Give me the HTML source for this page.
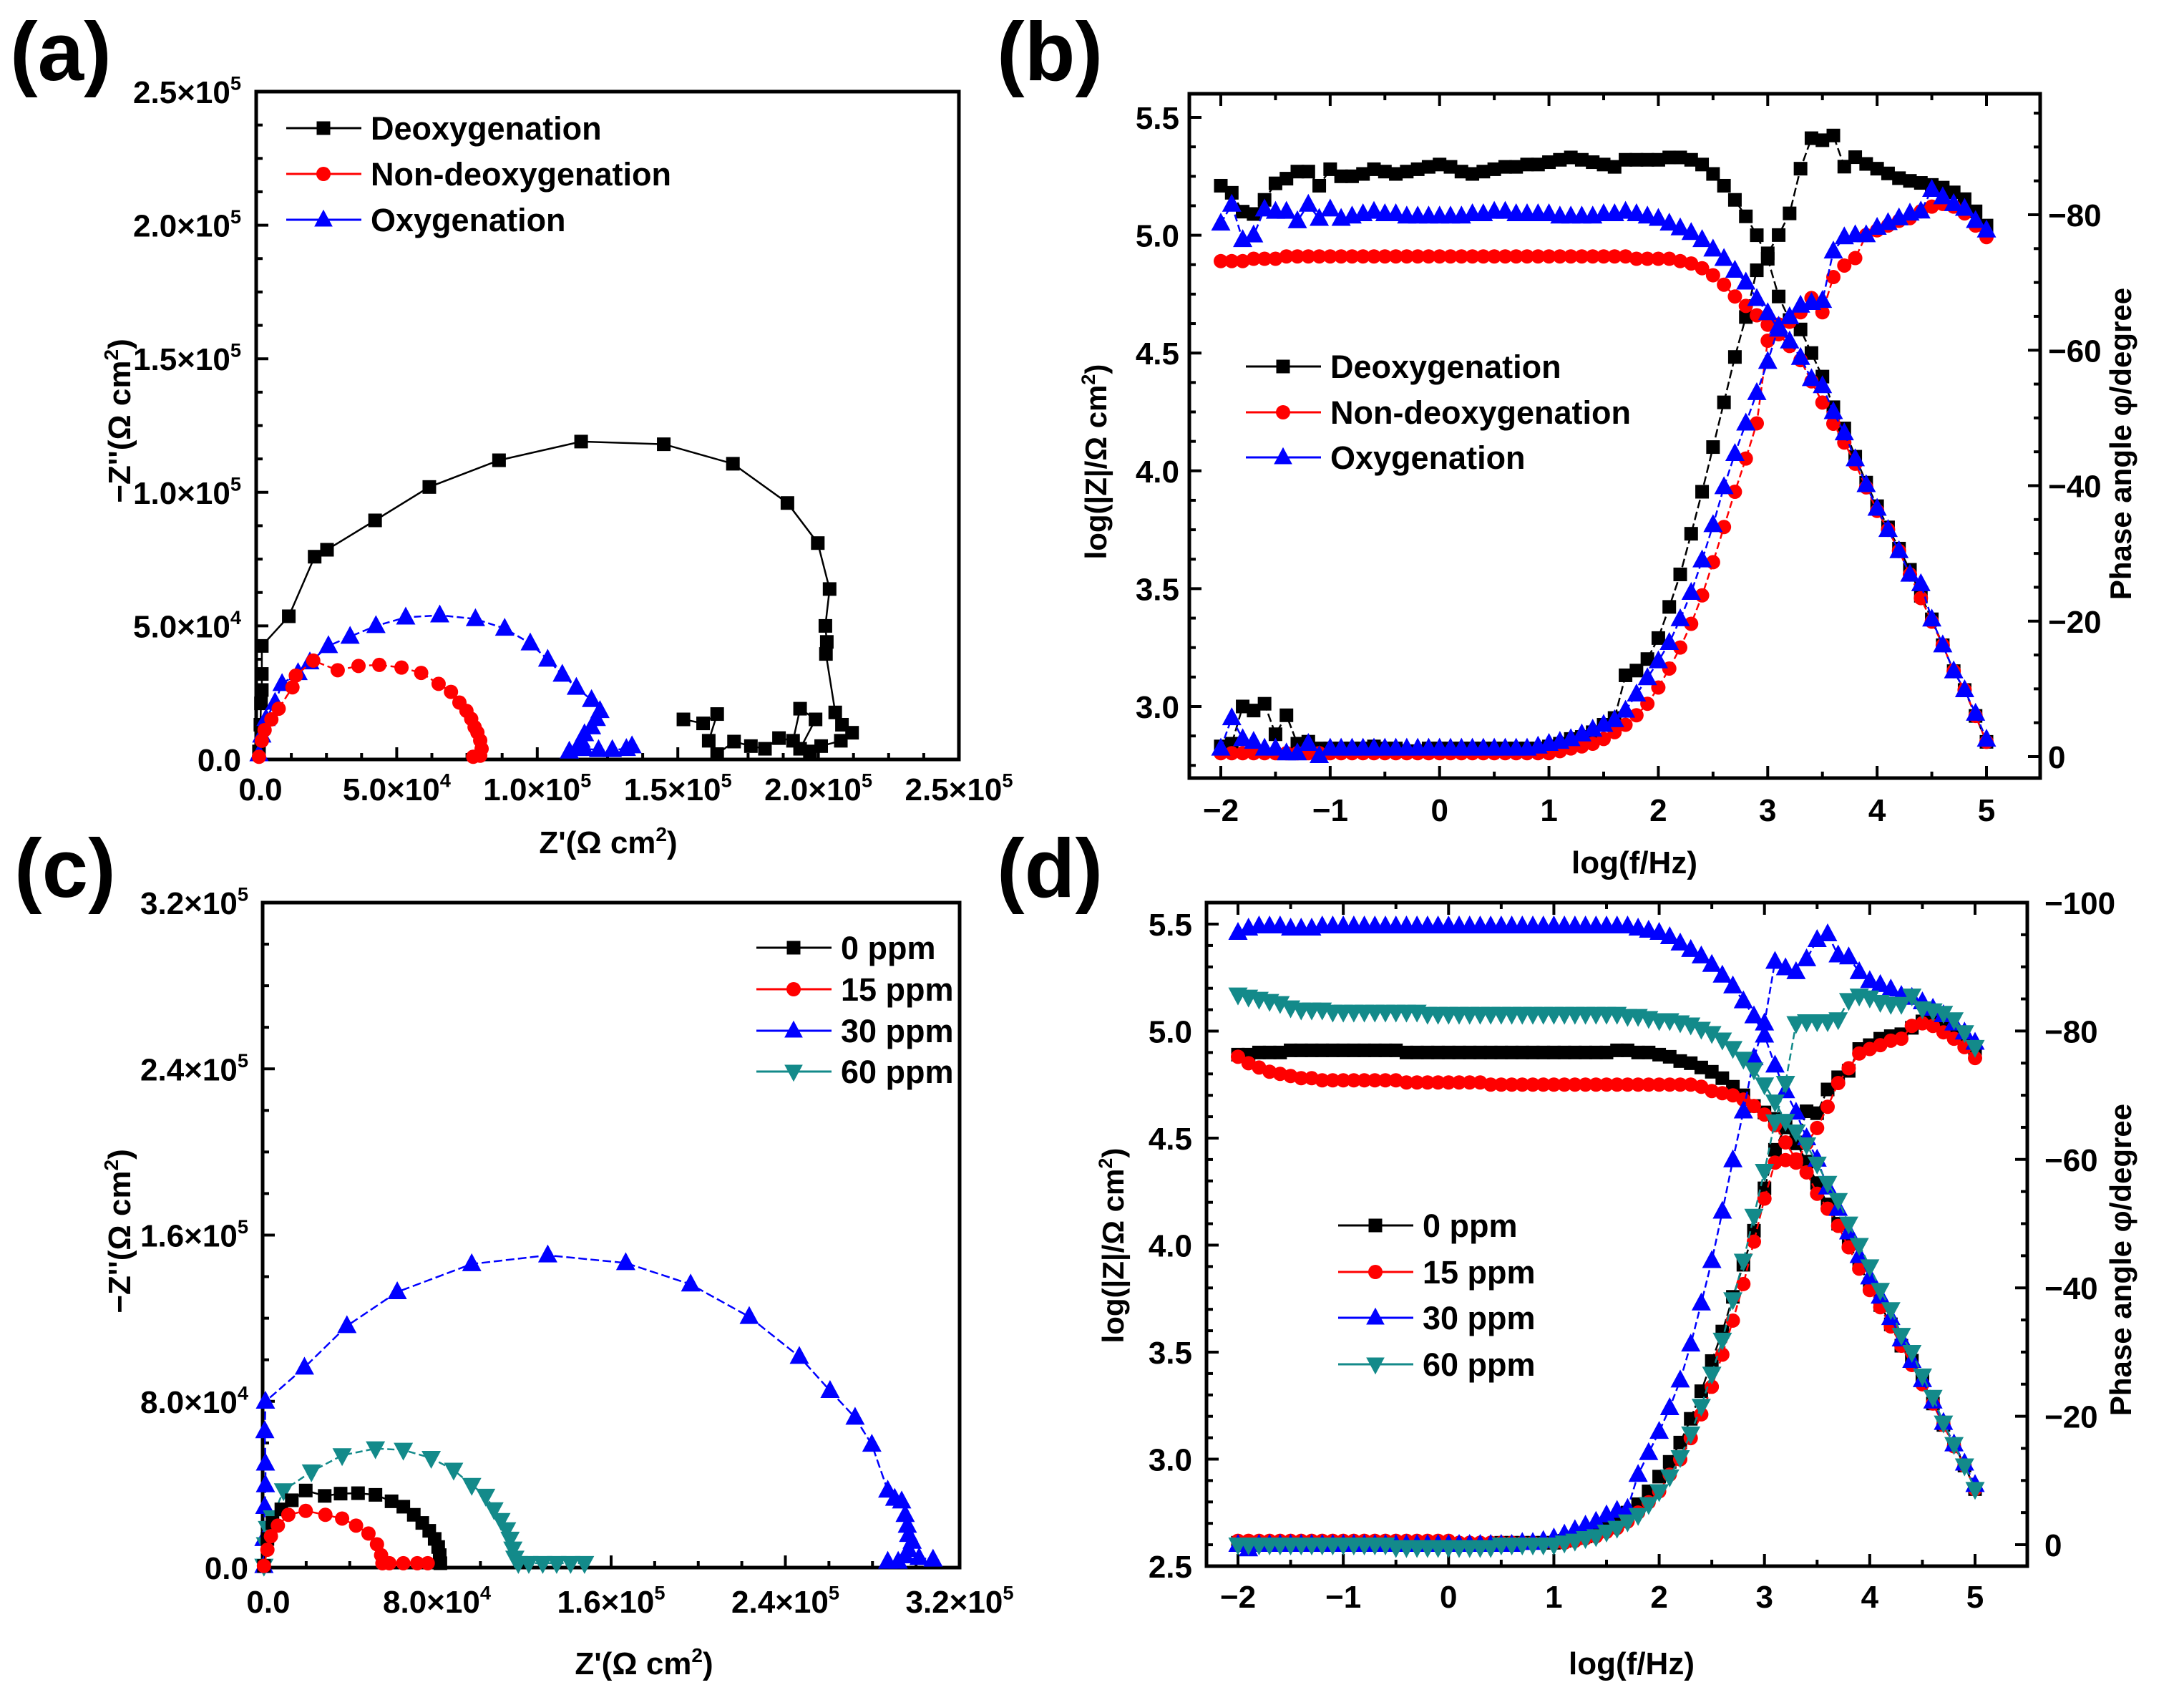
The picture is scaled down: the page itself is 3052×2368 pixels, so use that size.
<!DOCTYPE html>
<html><head><meta charset="utf-8"><title>EIS plots</title>
<style>html,body{margin:0;padding:0;background:#fff}svg{display:block}text{font-family:"Liberation Sans",Arial,sans-serif;font-weight:bold;fill:#000}</style>
</head><body>
<svg id="fig" xmlns="http://www.w3.org/2000/svg" width="3052" height="2368" viewBox="0 0 3052 2368"></svg>
<script>
// ---------- DATA ----------
const logF = [-2,-1.9,-1.8,-1.7,-1.6,-1.5,-1.4,-1.3,-1.2,-1.1,-1,-0.9,-0.8,-0.7,-0.6,-0.5,-0.4,-0.3,-0.2,-0.1,0,0.1,0.2,0.3,0.4,0.5,0.6,0.7,0.8,0.9,1,1.1,1.2,1.3,1.4,1.5,1.6,1.7,1.8,1.9,2,2.1,2.2,2.3,2.4,2.5,2.6,2.7,2.8,2.9,3,3.1,3.2,3.3,3.4,3.5,3.6,3.7,3.8,3.9,4,4.1,4.2,4.3,4.4,4.5,4.6,4.7,4.8,4.9,5];

// panel a (units 1e4 ohm cm2)
const aDeoxX = [0.1,0.15,0.17,0.2,0.2,0.2,1.16,2.08,2.52,4.23,6.16,8.64,11.56,14.5,16.96,18.9,19.98,20.4,20.25,20.3,20.27,20.6,20.84,21.2,20.8,20.1,19.7,19.35,19.9,19.35,19.1,18.6,18.1,17.6,17.0,16.4,16.1,16.4,15.9,15.2];
const aDeoxY = [0.3,1.3,2.1,2.6,3.2,4.25,5.36,7.59,7.85,8.95,10.2,11.2,11.9,11.8,11.07,9.6,8.1,6.38,5.0,4.4,3.95,1.76,1.3,1.0,0.7,0.5,0.3,0.4,1.5,1.9,0.7,0.8,0.4,0.5,0.67,0.2,0.7,1.7,1.35,1.5];
const aNonX = [0.1,0.2,0.3,0.54,0.8,1.29,1.41,2.03,2.9,3.64,4.38,5.17,5.87,6.49,6.93,7.23,7.48,7.65,7.77,7.87,7.97,8.02,7.97,7.72];
const aNonY = [0.1,0.7,1.1,1.5,1.9,2.7,3.14,3.7,3.34,3.5,3.54,3.44,3.24,2.83,2.53,2.13,1.82,1.52,1.21,1.01,0.71,0.4,0.14,0.1];
const aOxyX = [0.1,0.2,0.35,0.67,0.92,1.49,1.91,2.57,3.34,4.26,5.32,6.53,7.8,8.84,9.75,10.37,10.89,11.39,11.93,12.23,12.1,11.93,11.68,11.56,11.44,11.14,11.68,12.18,12.67,13.17,13.37];
const aOxyY = [0.2,0.9,1.52,2.13,2.83,3.24,3.64,4.25,4.6,5.0,5.32,5.4,5.26,4.9,4.35,3.74,3.18,2.69,2.23,1.82,1.52,1.21,0.95,0.71,0.4,0.3,0.4,0.36,0.36,0.4,0.5];

// panel b
const bDeoxZ = [5.21,5.18,5.10,5.09,5.15,5.22,5.24,5.27,5.27,5.21,5.28,5.25,5.25,5.26,5.28,5.27,5.26,5.27,5.28,5.29,5.30,5.29,5.27,5.26,5.27,5.28,5.29,5.29,5.30,5.30,5.31,5.32,5.33,5.32,5.31,5.30,5.29,5.32,5.32,5.32,5.32,5.33,5.33,5.32,5.30,5.26,5.21,5.15,5.08,5.00,4.90,4.74,4.64,4.60,4.50,4.40,4.27,4.18,4.06,3.95,3.85,3.76,3.67,3.58,3.47,3.37,3.26,3.15,3.07,2.96,2.85];
const bDeoxP = [-1.5,-1.9,-7.4,-6.8,-7.8,-3.3,-6.1,-1.9,-2.2,-1.2,-1.2,-1.2,-1.2,-1.2,-1.5,-1.2,-1.2,-0.8,-0.8,-1.2,-1.2,-1.2,-1.2,-1.2,-1.2,-1.2,-1.2,-1.2,-1.2,-1.2,-1.5,-1.9,-2.6,-2.9,-3.6,-4.7,-5.7,-12,-12.7,-14.4,-17.5,-22.1,-26.9,-32.9,-39.1,-45.7,-52.3,-59,-64.9,-71.8,-74.3,-77,-80.2,-86.8,-91.3,-91,-91.7,-87.1,-88.5,-87.5,-86.8,-86.1,-85.4,-85,-84.7,-84.4,-84,-83.3,-82.3,-80.5,-78.4];
const bNonZ = [4.89,4.89,4.89,4.90,4.90,4.90,4.91,4.91,4.91,4.91,4.91,4.91,4.91,4.91,4.91,4.91,4.91,4.91,4.91,4.91,4.91,4.91,4.91,4.91,4.91,4.91,4.91,4.91,4.91,4.91,4.91,4.91,4.91,4.91,4.91,4.91,4.91,4.91,4.90,4.90,4.90,4.90,4.89,4.88,4.86,4.83,4.79,4.74,4.70,4.66,4.62,4.58,4.53,4.47,4.38,4.29,4.20,4.12,4.03,3.93,3.83,3.75,3.66,3.56,3.46,3.36,3.26,3.15,3.07,2.96,2.85];
const bNonP = [-0.5,-0.5,-0.5,-0.5,-0.5,-0.5,-0.5,-0.5,-0.5,-0.5,-0.5,-0.5,-0.5,-0.5,-0.5,-0.5,-0.5,-0.5,-0.5,-0.5,-0.5,-0.5,-0.5,-0.5,-0.5,-0.5,-0.5,-0.5,-0.5,-0.5,-0.5,-0.8,-1.2,-1.5,-1.9,-2.6,-3.6,-4.7,-6.1,-7.8,-10.2,-13,-16.1,-19.6,-23.8,-28.7,-33.9,-39.1,-44,-49.2,-61.4,-63.8,-64.2,-65.6,-67.7,-65.6,-70.8,-72.5,-73.6,-77,-77.7,-78.4,-79.1,-79.5,-80.5,-81.2,-81.6,-81.2,-80.2,-78.4,-76.7];
const bOxyZ = [5.05,5.13,4.98,5.00,5.11,5.10,5.10,5.06,5.13,5.07,5.11,5.07,5.08,5.09,5.10,5.09,5.09,5.08,5.08,5.08,5.08,5.08,5.08,5.09,5.09,5.10,5.10,5.09,5.09,5.09,5.09,5.08,5.08,5.08,5.08,5.09,5.09,5.10,5.09,5.08,5.07,5.05,5.03,5.01,4.98,4.94,4.90,4.85,4.80,4.73,4.67,4.60,4.55,4.48,4.39,4.36,4.25,4.16,4.05,3.94,3.84,3.75,3.66,3.56,3.52,3.37,3.26,3.15,3.07,2.97,2.86];
const bOxyP = [-1.2,-5.7,-2.6,-2.2,-1.2,-1.2,-0.5,-0.5,-1.9,-0.1,-1.2,-1.2,-1.2,-1.2,-1.2,-1.2,-1.2,-1.2,-1.2,-1.2,-1.2,-1.2,-1.2,-1.2,-1.2,-1.2,-1.2,-1.2,-1.2,-1.5,-1.9,-2.2,-2.6,-3.3,-4.0,-4.7,-5.4,-6.8,-9.2,-11.6,-14.1,-16.8,-20.3,-24.2,-29,-34.2,-39.8,-44.7,-49.2,-53.7,-58.3,-63.5,-64.9,-66.6,-67,-67.3,-74.6,-76.7,-77,-77,-78.1,-78.8,-79.5,-80.2,-80.5,-83.7,-82.6,-81.6,-80.9,-79.1,-77.7];

// panel c (units 1e4)
const c0X = [0.06,0.22,0.45,0.86,1.34,1.98,2.85,3.58,4.38,5.18,5.92,6.46,6.94,7.33,7.65,7.9,8.06,8.13,8.16];
const c0Y = [0.08,1.38,2.15,2.8,3.24,3.71,3.45,3.56,3.58,3.5,3.19,2.93,2.54,2.15,1.77,1.38,0.99,0.6,0.21];
const c15X = [0.06,0.22,0.38,0.7,1.18,1.98,2.88,3.65,4.29,4.86,5.25,5.44,5.5,5.82,6.46,7.1,7.58];
const c15Y = [0.08,0.86,1.51,2.02,2.54,2.73,2.54,2.36,2.02,1.64,1.12,0.6,0.21,0.21,0.21,0.21,0.21];
const c30X = [0.06,0.06,0.1,0.13,0.13,0.1,0.13,1.92,3.87,6.18,9.6,13.09,16.67,19.65,22.34,24.64,26.05,27.2,27.97,28.7,29.02,29.34,29.5,29.6,29.66,29.82,29.66,29.5,29.18,28.7,30.14,30.78];
const c30Y = [0.08,1.38,2.93,3.97,5.01,6.57,7.99,9.63,11.63,13.26,14.61,15.03,14.66,13.63,12.07,10.15,8.51,7.22,5.92,3.71,3.32,3.19,2.54,2.02,1.58,1.25,0.86,0.55,0.29,0.29,0.47,0.39];
const c60X = [0.06,0.13,0.22,0.45,0.96,2.24,3.65,5.18,6.46,7.74,8.77,9.6,10.24,10.62,10.94,11.2,11.36,11.49,11.58,11.74,12.22,12.86,13.5,14.14,14.78];
const c60Y = [0.08,1.12,1.9,2.41,3.71,4.62,5.4,5.73,5.66,5.27,4.7,3.97,3.45,2.8,2.28,1.84,1.38,0.91,0.47,0.21,0.21,0.21,0.21,0.21,0.21];

// panel d
const d0Z = [4.89,4.89,4.90,4.90,4.90,4.91,4.91,4.91,4.91,4.91,4.91,4.91,4.91,4.91,4.91,4.91,4.90,4.90,4.90,4.90,4.90,4.90,4.90,4.90,4.90,4.90,4.90,4.90,4.90,4.90,4.90,4.90,4.90,4.90,4.90,4.90,4.91,4.91,4.90,4.90,4.89,4.88,4.86,4.85,4.83,4.81,4.78,4.74,4.70,4.65,4.62,4.59,4.55,4.48,4.39,4.29,4.19,4.10,4.01,3.91,3.81,3.72,3.63,3.53,3.46,3.37,3.26,3.16,3.07,2.97,2.86];
const d0P = [-0.3,-0.3,-0.3,-0.3,-0.3,-0.3,-0.3,-0.3,-0.3,-0.3,-0.3,-0.3,-0.3,-0.3,-0.3,-0.3,-0.3,-0.3,-0.3,0,0,0,0,0,0,-0.3,-0.3,-0.3,-0.3,-0.3,-0.3,-0.6,-1.0,-1.3,-2.0,-3.0,-4.0,-5.0,-6.3,-8.3,-10.6,-12.9,-15.9,-19.6,-23.9,-28.6,-33.2,-38.6,-43.6,-48.9,-55.5,-61.5,-65.2,-62.5,-67.5,-67.2,-70.9,-72.8,-73.8,-77.2,-77.8,-78.8,-79.2,-79.5,-80.5,-81.5,-81.5,-80.5,-79.5,-78.2,-76.5];
const d15Z = [4.88,4.85,4.83,4.81,4.80,4.79,4.78,4.78,4.77,4.77,4.77,4.77,4.77,4.77,4.77,4.77,4.76,4.76,4.76,4.76,4.76,4.76,4.76,4.76,4.75,4.75,4.75,4.75,4.75,4.75,4.75,4.75,4.75,4.75,4.75,4.75,4.75,4.75,4.75,4.75,4.75,4.75,4.75,4.75,4.74,4.72,4.71,4.70,4.68,4.65,4.61,4.56,4.48,4.40,4.34,4.24,4.17,4.09,3.99,3.89,3.79,3.71,3.62,3.53,3.44,3.35,3.26,3.16,3.06,2.97,2.86];
const d15P = [-0.6,-0.6,-0.6,-0.6,-0.6,-0.6,-0.6,-0.6,-0.6,-0.6,-0.6,-0.6,-0.6,-0.6,-0.6,-0.6,-0.6,-0.6,-0.6,-0.6,-0.6,-0.3,-0.3,-0.3,-0.3,-0.3,-0.3,-0.3,-0.3,-0.3,-0.3,-0.3,-0.6,-1.0,-1.3,-2.0,-2.6,-3.6,-5.0,-6.6,-8.3,-10.9,-13.3,-16.6,-20.3,-24.6,-29.6,-34.9,-40.6,-47.2,-53.9,-59.5,-59.9,-59.5,-62.5,-64.9,-68.2,-71.9,-74.2,-76.5,-77.2,-77.8,-78.5,-78.8,-80.8,-81.2,-80.8,-79.8,-78.8,-77.5,-75.8];
const d30Z = [5.46,5.48,5.49,5.49,5.49,5.48,5.48,5.48,5.49,5.49,5.49,5.49,5.49,5.49,5.49,5.49,5.49,5.49,5.49,5.49,5.49,5.49,5.49,5.49,5.49,5.49,5.49,5.49,5.49,5.49,5.49,5.49,5.49,5.49,5.49,5.49,5.49,5.49,5.48,5.47,5.46,5.44,5.41,5.38,5.35,5.31,5.26,5.21,5.14,5.07,4.98,4.84,4.72,4.62,4.50,4.40,4.27,4.17,4.06,3.95,3.85,3.76,3.66,3.56,3.46,3.37,3.27,3.17,3.07,2.98,2.88];
const d30P = [0,0.7,0,0,0,0,0,0,0,0,0,0,0,0,0,0,0,0,0,0,0,0,0,0,0,0,0,-0.3,-0.3,-0.6,-1.0,-1.6,-2.3,-3.0,-3.6,-4.6,-5.3,-5.6,-10.9,-14.3,-17.6,-21.3,-25.6,-31.2,-37.6,-44.2,-51.9,-59.9,-67.5,-75.8,-81.2,-90.8,-89.8,-89.2,-91.2,-94.2,-95.1,-91.8,-91.5,-89.2,-87.8,-87.2,-86.5,-85.5,-85.2,-84.5,-83.5,-82.5,-81.2,-79.8,-78.2];
const d60Z = [5.17,5.16,5.15,5.14,5.13,5.11,5.10,5.10,5.10,5.09,5.09,5.09,5.09,5.09,5.09,5.09,5.09,5.09,5.08,5.08,5.08,5.08,5.08,5.08,5.08,5.08,5.08,5.08,5.08,5.08,5.08,5.08,5.08,5.08,5.08,5.08,5.08,5.07,5.07,5.06,5.05,5.05,5.04,5.03,5.01,4.99,4.96,4.92,4.87,4.82,4.75,4.67,4.58,4.53,4.47,4.38,4.29,4.21,4.10,4.00,3.90,3.79,3.70,3.58,3.50,3.39,3.29,3.17,3.07,2.97,2.86];
const d60P = [0,0,0,0,0,0,0,0,0,0,0,0,0,0,0,0.4,0.4,0.4,0.4,0.4,0.4,0.4,0.4,0.4,0.4,0,0,0,0,0,0,-0.3,-0.6,-1.0,-1.3,-2.0,-2.6,-3.6,-4.6,-6.3,-8.3,-10.6,-13.6,-17.3,-21.6,-26.6,-31.9,-38.2,-44.2,-51.2,-58.2,-65.9,-71.9,-81.2,-81.5,-81.5,-81.5,-81.8,-84.8,-85.5,-85.2,-84.5,-84.2,-84.2,-85.5,-83.5,-83.2,-82.8,-81.8,-79.8,-77.5];

// tick label arrays
const aTicks = [0,5,10,15,20,25];
const aTickMant = ["0.0","5.0","1.0","1.5","2.0","2.5"];
const aTickExp = ["","4","5","5","5","5"];
const cTicks = [0,8,16,24,32];
const cTickMant = ["0.0","8.0","1.6","2.4","3.2"];
const cTickExp = ["","4","5","5","5"];
const fTicks = [-2,-1,0,1,2,3,4,5];
const zTicksB = [3.0,3.5,4.0,4.5,5.0,5.5];
const pTicksB = [0,-20,-40,-60,-80];
const zTicksD = [2.5,3.0,3.5,4.0,4.5,5.0,5.5];
const pTicksD = [0,-20,-40,-60,-80,-100];

// ---------- DRAWING ----------
const NS = "http://www.w3.org/2000/svg";
const svg = document.getElementById('fig');
const TF = 44;
function mk(tag, parent, name, attrs) {
  const el = document.createElementNS(NS, tag);
  for (const k in attrs) el.setAttribute(k, attrs[k]);
  
  
  parent.appendChild(el);
  return el;
}
function txt(parent, name, x, y, s, size, anchor, extra) {
  const t = mk('text', parent, name, Object.assign({x: x, y: y, 'font-size': size, 'text-anchor': anchor || 'start'}, extra || {}));
  t.textContent = s;
  return t;
}
function sciLabel(parent, name, x, y, mant, exp, size, anchor) {
  const t = mk('text', parent, name, {x: x, y: y, 'font-size': size, 'text-anchor': anchor});
  if (!exp) { t.textContent = mant; return t; }
  const a = document.createElementNS(NS, 'tspan'); a.textContent = mant + '\u00d710'; t.appendChild(a);
  const b = document.createElementNS(NS, 'tspan'); b.setAttribute('dy', -size * 0.42); b.setAttribute('font-size', size * 0.62); b.textContent = exp; t.appendChild(b);
  return t;
}
function marker(g, name, shape, x, y, color, s) {
  if (shape === 'sq') return mk('rect', g, name, {x: x - s/2, y: y - s/2, width: s, height: s, fill: color});
  if (shape === 'ci') return mk('circle', g, name, {cx: x, cy: y, r: s/2 + 0.5, fill: color});
  const h = s * 1.25, w = s * 1.35;
  if (shape === 'tu') return mk('polygon', g, name, {points: (x) + ',' + (y - h*0.6) + ' ' + (x - w/2) + ',' + (y + h*0.4) + ' ' + (x + w/2) + ',' + (y + h*0.4), fill: color});
  return mk('polygon', g, name, {points: (x) + ',' + (y + h*0.6) + ' ' + (x - w/2) + ',' + (y - h*0.4) + ' ' + (x + w/2) + ',' + (y - h*0.4), fill: color});
}
function series(parent, name, xs, ys, sx, sy, color, shape, dash, s) {
  const g = mk('g', parent, name, {});
  let d = '';
  for (let i = 0; i < xs.length; i++) d += (i ? 'L' : 'M') + sx(xs[i]).toFixed(1) + ',' + sy(ys[i]).toFixed(1);
  mk('path', g, name + '-line', {d: d, fill: 'none', stroke: color, 'stroke-width': 2.5, 'stroke-dasharray': dash || 'none'});
  for (let i = 0; i < xs.length; i++) marker(g, name + '-point', shape, sx(xs[i]), sy(ys[i]), color, s);
  return g;
}
function lin(d0, d1, r0, r1) { return v => r0 + (v - d0) / (d1 - d0) * (r1 - r0); }
function frame(g, name, L, T, R, B) {
  mk('rect', g, name, {x: L, y: T, width: R - L, height: B - T, fill: 'none', stroke: '#000', 'stroke-width': 5});
}
function tickV(g, name, x, y, len, dir) { mk('line', g, name, {x1: x, y1: y, x2: x + dir * len, y2: y, stroke: '#000', 'stroke-width': 4}); }
function tickH(g, name, x, y, len, dir) { mk('line', g, name, {x1: x, y1: y, x2: x, y2: y + dir * len, stroke: '#000', 'stroke-width': 4}); }
function legend(g, name, x0, rowsY, labels, colors, shapes, dashes, s, fs) {
  const lg = mk('g', g, name, {});
  for (let i = 0; i < labels.length; i++) {
    const eg = mk('g', lg, 'legend-entry', {});
    mk('line', eg, 'legend-line', {x1: x0, y1: rowsY[i], x2: x0 + 105, y2: rowsY[i], stroke: colors[i], 'stroke-width': 3});
    marker(eg, 'legend-marker', shapes[i], x0 + 52, rowsY[i], colors[i], s);
    txt(eg, 'legend-label', x0 + 118, rowsY[i] + fs * 0.36, labels[i], fs);
  }
}
function panelLabel(s, x, y, name) { txt(svg, name, x, y, s, 116, 'start'); }

// ----- Panel A -----
(function(){
  const g = mk('g', svg, 'panel-a-nyquist', {});
  const L = 358, R = 1340, T = 128, B = 1061;
  const sx = lin(0, 25, L, R), sy = lin(0, 25, B, T);
  frame(g, 'plot-frame', L, T, R, B);
  for (let v = 0; v <= 25; v += 1.25) {
    const maj = aTicks.indexOf(v) >= 0;
    tickH(g, 'x-tick', sx(v), B, maj ? 17 : 9, -1);
    tickV(g, 'y-tick', L, sy(v), maj ? 17 : 9, 1);
  }
  aTicks.forEach((v, i) => {
    sciLabel(g, 'x-tick-label', sx(v) + (i ? 0 : 6), 1118, aTickMant[i], aTickExp[i], TF, 'middle');
    sciLabel(g, 'y-tick-label', 337, sy(v) + 16, aTickMant[i], aTickExp[i], TF, 'end');
  });
  const xt = mk('text', g, 'x-axis-title', {x: 850, y: 1192, 'font-size': 44, 'text-anchor': 'middle'});
  xt.innerHTML = "Z'(\u03a9 cm<tspan dy='-17' font-size='28'>2</tspan><tspan dy='17'>)</tspan>";
  const yt = mk('text', g, 'y-axis-title', {x: 0, y: 0, 'font-size': 44, 'text-anchor': 'middle', transform: 'translate(182,588) rotate(-90)'});
  yt.innerHTML = "\u2212Z''(\u03a9 cm<tspan dy='-17' font-size='28'>2</tspan><tspan dy='17'>)</tspan>";
  series(g, 'series-deoxygenation', aDeoxX, aDeoxY, sx, sy, '#000', 'sq', null, 19);
  series(g, 'series-oxygenation', aOxyX, aOxyY, sx, sy, '#0000ff', 'tu', '10,5', 20);
  series(g, 'series-non-deoxygenation', aNonX, aNonY, sx, sy, '#ff0000', 'ci', '10,5', 19);
  legend(g, 'legend', 400, [179, 243, 307], ['Deoxygenation', 'Non-deoxygenation', 'Oxygenation'], ['#000', '#ff0000', '#0000ff'], ['sq', 'ci', 'tu'], [], 19, 45);
})();

// ----- Panel B -----
(function(){
  const g = mk('g', svg, 'panel-b-bode', {});
  const L = 1662, R = 2851, T = 131, B = 1087;
  const sx = lin(-2, 5, 1706, 2776);
  const sz = lin(5.5, 3.0, 164, 987);
  const sp = lin(-80, 0, 300, 1057);
  frame(g, 'plot-frame', L, T, R, B);
  for (let v = -2; v <= 5.01; v += 0.5) {
    const maj = Math.abs(v - Math.round(v)) < 0.01;
    tickH(g, 'x-tick', sx(v), B, maj ? 17 : 9, -1);
    tickH(g, 'x-tick-top', sx(v), T, maj ? 17 : 9, 1);
  }
  for (let v = 2.75; v <= 5.51; v += 0.125) {
    const maj = Math.abs(v * 2 - Math.round(v * 2)) < 0.01;
    tickV(g, 'y-left-tick', L, sz(v), maj ? 17 : 9, 1);
  }
  for (let v = 0; v >= -95; v -= 5) {
    const maj = v % 20 === 0;
    tickV(g, 'y-right-tick', R, sp(v), maj ? 17 : 9, -1);
  }
  fTicks.forEach(v => txt(g, 'x-tick-label', sx(v), 1147, v < 0 ? '\u2212' + (-v) : String(v), TF, 'middle'));
  zTicksB.forEach(v => txt(g, 'y-left-tick-label', 1648, sz(v) + 16, v.toFixed(1), TF, 'end'));
  pTicksB.forEach(v => txt(g, 'y-right-tick-label', 2862, sp(v) + 16, v < 0 ? '\u2212' + (-v) : '0', TF, 'start'));
  txt(g, 'x-axis-title', 2284, 1220, 'log(f/Hz)', 44, 'middle');
  const yt = mk('text', g, 'y-left-axis-title', {x: 0, y: 0, 'font-size': 42, 'text-anchor': 'middle', transform: 'translate(1546,645) rotate(-90)'});
  yt.innerHTML = "log(|Z|/\u03a9 cm<tspan dy='-16' font-size='27'>2</tspan><tspan dy='16'>)</tspan>";
  txt(g, 'y-right-axis-title', 0, 0, 'Phase angle \u03c6/degree', 42, 'middle', {transform: 'translate(2978,620) rotate(-90)'});
  series(g, 'series-deoxygenation-phase', logF, bDeoxP, sx, sp, '#000', 'sq', '12,5', 19);
  series(g, 'series-deoxygenation-impedance', logF, bDeoxZ, sx, sz, '#000', 'sq', '12,5', 19);
  series(g, 'series-non-deoxygenation-phase', logF, bNonP, sx, sp, '#ff0000', 'ci', '10,5', 19);
  series(g, 'series-non-deoxygenation-impedance', logF, bNonZ, sx, sz, '#ff0000', 'ci', '10,5', 19);
  series(g, 'series-oxygenation-phase', logF, bOxyP, sx, sp, '#0000ff', 'tu', '10,5', 20);
  series(g, 'series-oxygenation-impedance', logF, bOxyZ, sx, sz, '#0000ff', 'tu', '10,5', 20);
  legend(g, 'legend', 1741, [512, 576, 639], ['Deoxygenation', 'Non-deoxygenation', 'Oxygenation'], ['#000', '#ff0000', '#0000ff'], ['sq', 'ci', 'tu'], [], 19, 45);
})();

// ----- Panel C -----
(function(){
  const g = mk('g', svg, 'panel-c-nyquist', {});
  const L = 367, R = 1341, T = 1261, B = 2190;
  const sx = lin(0, 32, L, R), sy = lin(0, 32, B, T);
  frame(g, 'plot-frame', L, T, R, B);
  for (let v = 0; v <= 32; v += 2) {
    const maj = cTicks.indexOf(v) >= 0;
    tickH(g, 'x-tick', sx(v), B, maj ? 17 : 9, -1);
    tickV(g, 'y-tick', L, sy(v), maj ? 17 : 9, 1);
  }
  cTicks.forEach((v, i) => {
    sciLabel(g, 'x-tick-label', sx(v) + (i ? 0 : 8), 2253, cTickMant[i], cTickExp[i], TF, 'middle');
    sciLabel(g, 'y-tick-label', 347, sy(v) + 16, cTickMant[i], cTickExp[i], TF, 'end');
  });
  const xt = mk('text', g, 'x-axis-title', {x: 900, y: 2339, 'font-size': 44, 'text-anchor': 'middle'});
  xt.innerHTML = "Z'(\u03a9 cm<tspan dy='-17' font-size='28'>2</tspan><tspan dy='17'>)</tspan>";
  const yt = mk('text', g, 'y-axis-title', {x: 0, y: 0, 'font-size': 44, 'text-anchor': 'middle', transform: 'translate(182,1720) rotate(-90)'});
  yt.innerHTML = "\u2212Z''(\u03a9 cm<tspan dy='-17' font-size='28'>2</tspan><tspan dy='17'>)</tspan>";
  series(g, 'series-30ppm', c30X, c30Y, sx, sy, '#0000ff', 'tu', '12,5', 20);
  series(g, 'series-60ppm', c60X, c60Y, sx, sy, '#138a8a', 'td', '10,5', 20);
  series(g, 'series-0ppm', c0X, c0Y, sx, sy, '#000', 'sq', null, 19);
  series(g, 'series-15ppm', c15X, c15Y, sx, sy, '#ff0000', 'ci', null, 19);
  legend(g, 'legend', 1057, [1324, 1382, 1440, 1497], ['0 ppm', '15 ppm', '30 ppm', '60 ppm'], ['#000', '#ff0000', '#0000ff', '#138a8a'], ['sq', 'ci', 'tu', 'td'], [], 19, 45);
})();

// ----- Panel D -----
(function(){
  const g = mk('g', svg, 'panel-d-bode', {});
  const L = 1686, R = 2833, T = 1261, B = 2188;
  const sx = lin(-2, 5, 1730, 2760);
  const sz = lin(5.5, 2.5, 1291, 2188);
  const sp = lin(-100, 0, 1261, 2158);
  frame(g, 'plot-frame', L, T, R, B);
  for (let v = -2; v <= 5.01; v += 0.5) {
    const maj = Math.abs(v - Math.round(v)) < 0.01;
    tickH(g, 'x-tick', sx(v), B, maj ? 17 : 9, -1);
    tickH(g, 'x-tick-top', sx(v), T, maj ? 17 : 9, 1);
  }
  for (let v = 2.5; v <= 5.51; v += 0.1) {
    const maj = Math.abs(v * 2 - Math.round(v * 2)) < 0.01;
    tickV(g, 'y-left-tick', L, sz(v), maj ? 17 : 9, 1);
  }
  for (let v = 0; v >= -100; v -= 5) {
    const maj = v % 20 === 0;
    tickV(g, 'y-right-tick', R, sp(v), maj ? 17 : 9, -1);
  }
  fTicks.forEach(v => txt(g, 'x-tick-label', sx(v), 2246, v < 0 ? '\u2212' + (-v) : String(v), TF, 'middle'));
  zTicksD.forEach(v => txt(g, 'y-left-tick-label', 1666, sz(v) + 16, v.toFixed(1), TF, 'end'));
  pTicksD.forEach(v => txt(g, 'y-right-tick-label', 2857, sp(v) + 16, v < 0 ? '\u2212' + (-v) : '0', TF, 'start'));
  txt(g, 'x-axis-title', 2280, 2339, 'log(f/Hz)', 44, 'middle');
  const yt = mk('text', g, 'y-left-axis-title', {x: 0, y: 0, 'font-size': 42, 'text-anchor': 'middle', transform: 'translate(1570,1740) rotate(-90)'});
  yt.innerHTML = "log(|Z|/\u03a9 cm<tspan dy='-16' font-size='27'>2</tspan><tspan dy='16'>)</tspan>";
  txt(g, 'y-right-axis-title', 0, 0, 'Phase angle \u03c6/degree', 42, 'middle', {transform: 'translate(2978,1760) rotate(-90)'});
  series(g, 'series-0ppm-phase', logF, d0P, sx, sp, '#000', 'sq', '12,5', 19);
  series(g, 'series-0ppm-impedance', logF, d0Z, sx, sz, '#000', 'sq', '12,5', 19);
  series(g, 'series-15ppm-phase', logF, d15P, sx, sp, '#ff0000', 'ci', '10,5', 19);
  series(g, 'series-15ppm-impedance', logF, d15Z, sx, sz, '#ff0000', 'ci', '10,5', 19);
  series(g, 'series-30ppm-phase', logF, d30P, sx, sp, '#0000ff', 'tu', '10,5', 20);
  series(g, 'series-30ppm-impedance', logF, d30Z, sx, sz, '#0000ff', 'tu', '10,5', 20);
  series(g, 'series-60ppm-phase', logF, d60P, sx, sp, '#138a8a', 'td', '10,5', 20);
  series(g, 'series-60ppm-impedance', logF, d60Z, sx, sz, '#138a8a', 'td', '10,5', 20);
  legend(g, 'legend', 1870, [1712, 1777, 1841, 1906], ['0 ppm', '15 ppm', '30 ppm', '60 ppm'], ['#000', '#ff0000', '#0000ff', '#138a8a'], ['sq', 'ci', 'tu', 'td'], [], 19, 45);
})();

panelLabel('(a)', 14, 112, 'panel-label-a');
panelLabel('(b)', 1393, 112, 'panel-label-b');
panelLabel('(c)', 20, 1253, 'panel-label-c');
panelLabel('(d)', 1393, 1253, 'panel-label-d');
</script>
</body></html>
